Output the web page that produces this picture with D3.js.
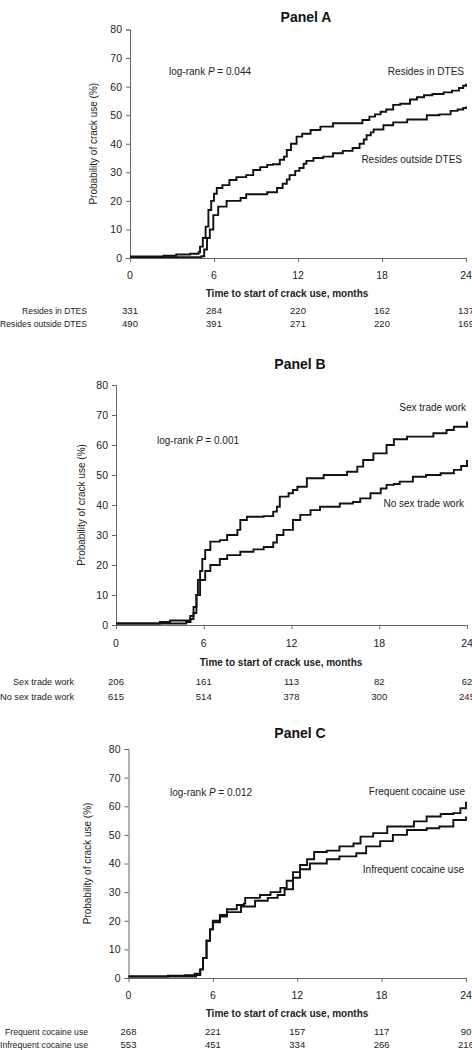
<!DOCTYPE html>
<html><head><meta charset="utf-8">
<script src="https://cdn.jsdelivr.net/npm/d3@7"></script>
<style>body{margin:0;background:#fff}svg{display:block;font-family:"Liberation Sans",Arial,sans-serif}</style>
</head><body><svg id="c" width="472" height="1050"></svg>
<script>
// ---- data ----
const xTicks = [0, 6, 12, 18, 24];
const yTicks = [0, 10, 20, 30, 40, 50, 60, 70, 80];

// Panel A
const aInT  = [0,2.4,3.3,4.3,4.9,5.0,5.2,5.4,5.6,5.8,6.0,6.2,6.6,7.1,7.6,8.3,8.8,9.3,9.8,10.2,10.7,11.0,11.2,11.5,11.9,12.3,12.9,13.6,14.5,16.2,16.6,17.1,17.5,17.9,18.3,18.8,19.3,20.0,20.5,21.0,21.6,22.4,23.0,23.5,23.8,24.0];
const aInP  = [0.5,0.8,1.2,1.5,2,4,7,11,16.8,20,22.5,24.5,25.5,27.3,28.3,29,30.8,31.8,32.6,32.8,34.4,35.5,37.8,40,42.5,43.5,44.8,46,47.2,47.2,48.3,49.5,50.3,51.2,52,53.6,54,55.5,56.3,57,57.4,58,58.6,59.5,60.3,61];
const aOutT = [0,5.1,5.3,5.5,5.7,5.95,6.3,6.9,7.9,8.3,9.3,9.8,10.5,10.9,11.2,11.4,11.8,12.1,12.4,12.6,13.1,13.8,14.5,15.2,15.9,16.4,16.7,16.9,17.2,17.4,18.1,18.8,19.8,20.5,21.2,22.1,22.9,23.4,23.8,24.0];
const aOutP = [0.3,0.6,3,7,10,15,18,20,21,22.3,22.3,23,24.5,26,27.5,29,30.5,31.5,33,34,35,35.5,36.7,37.5,38.5,40,41.5,43,44,45,46.5,47.5,48.5,48.5,50,50.3,51.5,52,52.5,53];
const aLabels = ["Resides in DTES", "Resides outside DTES"];
const aAtRisk = [[331, 284, 220, 162, 137], [490, 391, 271, 220, 169]];

// Panel B
const bSexT  = [0,3.0,3.7,5.07,5.3,5.5,5.6,5.75,5.9,6.1,6.45,7.1,7.6,8.3,8.5,8.95,10.1,10.75,11.0,11.2,11.8,12.1,12.4,13.05,14.2,15.8,16.5,16.9,17.6,18.5,19.0,19.9,21.7,22.6,23.1,23.9,24.0];
const bSexP  = [0.5,1,1.5,3,6,10,15,18,22,25,27.8,28.3,30,31.7,35,36.1,36.3,37.8,39.4,42.8,43.9,45,46.1,48.9,50,51.1,52.8,55,57.2,60,61.9,62.8,63.9,65,66.1,66.1,67.8];
const bNoT   = [0,4.8,5.1,5.3,5.5,5.75,6.1,6.45,7.1,7.6,8.5,9.4,10.1,10.75,11.0,11.45,12.1,12.6,13.3,13.95,15.3,16.2,16.7,17.4,18.1,18.5,19.0,19.4,20.3,21.2,22.2,23.1,23.6,24.0];
const bNoP   = [0.5,1,2,4,10,15,18,20,22,23.3,24.4,25.2,26,27.5,30,31.7,35,36.7,38.3,39.4,40.5,41,42.2,43.9,45.5,46.7,47,47.8,49.4,50,50.6,51.7,53,55];
const bLabels = ["Sex trade work", "No sex trade work"];
const bAtRisk = [[206, 161, 113, 82, 62], [615, 514, 378, 300, 245]];

// Panel C
const cFreqT = [0,2.8,4.0,4.7,5.1,5.3,5.55,5.8,6.0,6.5,7.0,7.7,8.2,8.3,9.35,10.1,10.8,11.25,11.7,12.2,12.7,13.2,14.1,15.0,16.0,16.5,17.4,18.4,19.3,20.3,21.2,22.2,23.1,23.6,24.0];
const cFreqP = [0.5,0.8,1,1.5,3,7,13,17,19.5,22,24,25.5,26,28,29,30,31.5,34,37,39.5,41.5,44,44.5,46,47,49.4,50.6,52.9,52.9,54.7,56.4,57.3,57.6,59.3,61.6];
const cInfT  = [0,4.8,5.1,5.3,5.55,5.8,6.0,6.5,7.0,8.0,9.0,9.9,10.6,11.1,11.7,12.2,12.9,14.1,15.0,16.2,16.9,17.9,18.8,19.8,21.2,22.1,23.1,24.0];
const cInfP  = [0.5,1,3,7,13,17,20,21.5,23,25,27,28,29,31,35,38,40,41.5,42.5,43.6,46,47.8,50,51.7,52.3,52.9,55.2,56.4];
const cLabels = ["Frequent cocaine use", "Infrequent cocaine use"];
const cAtRisk = [[268, 221, 157, 117, 90], [553, 451, 334, 266, 216]];

const pValues = ["0.044", "0.001", "0.012"];
const titles = ["Panel A", "Panel B", "Panel C"];

// ---- layout (pixels) ----
const panels = [
  {title: titles[0], p: pValues[0], x0: 130, x1: 466, yB: 258, yT: 29.5, titleX: 306, titleY: 22,
   series: [[aInT, aInP], [aOutT, aOutP]], labels: aLabels, atRisk: aAtRisk,
   lbl1: [464, 75], lbl2: [462, 163], lr: [169, 75], ytitleX: 97, tickY: 279, axTitle: [287, 297], rows: [314, 327], rowRight: 87,
   rowW: [65, 87]},
  {title: titles[1], p: pValues[1], x0: 116, x1: 467, yB: 625, yT: 385, titleX: 300, titleY: 369,
   series: [[bSexT, bSexP], [bNoT, bNoP]], labels: bLabels, atRisk: bAtRisk,
   lbl1: [466, 411], lbl2: [464, 507], lr: [157, 444], ytitleX: 85, tickY: 647, axTitle: [281, 666], rows: [685, 700], rowRight: 74,
   rowW: [61, 74]},
  {title: titles[2], p: pValues[2], x0: 128.5, x1: 466, yB: 978, yT: 749, titleX: 300, titleY: 738,
   series: [[cFreqT, cFreqP], [cInfT, cInfP]], labels: cLabels, atRisk: cAtRisk,
   lbl1: [465, 795], lbl2: [464, 873], lr: [170, 796], ytitleX: 91, tickY: 999, axTitle: [287, 1017], rows: [1035, 1048], rowRight: 88,
   rowW: [83, 88]}
];

const svg = d3.select("#c");

panels.forEach(P => {
  const g = svg.append("g");
  const x = d3.scaleLinear().domain([0, 24]).range([P.x0, P.x1]);
  const y = d3.scaleLinear().domain([0, 80]).range([P.yB, P.yT]);

  g.append("text").attr("x", P.titleX).attr("y", P.titleY).attr("text-anchor", "middle")
    .attr("font-size", 14).attr("font-weight", "bold").attr("fill", "#111").text(P.title);

  // y axis
  const ya = g.append("g").attr("transform", `translate(${P.x0},0)`)
    .call(d3.axisLeft(y).tickValues(yTicks).tickSize(4).tickPadding(4).tickFormat(d3.format("d")));
  ya.selectAll("text").attr("font-size", 10.5).attr("fill", "#222").attr("font-family", "Liberation Sans, Arial");
  ya.select(".domain").attr("stroke", "#666");
  ya.selectAll(".tick line").attr("stroke", "#666");

  // x axis
  const xa = g.append("g").attr("transform", `translate(0,${P.yB})`)
    .call(d3.axisBottom(x).tickValues(xTicks).tickSize(4).tickSizeOuter(0).tickFormat(() => ""));
  xa.select(".domain").attr("stroke", "#666");
  xa.selectAll(".tick line").attr("stroke", "#666");
  g.selectAll(".xt").data(xTicks).join("text").attr("class", "xt")
    .attr("x", d => x(d)).attr("y", P.tickY).attr("text-anchor", "middle")
    .attr("font-size", 10.5).attr("fill", "#222").text(d => d);

  g.append("text").attr("x", P.axTitle[0]).attr("y", P.axTitle[1]).attr("text-anchor", "middle")
    .attr("font-size", 10).attr("font-weight", "bold").attr("fill", "#222").text("Time to start of crack use, months");

  g.append("text").attr("transform", `translate(${P.ytitleX},${(P.yB + P.yT) / 2}) rotate(-90)`)
    .attr("text-anchor", "middle").attr("font-size", 10).attr("fill", "#222").text("Probability of crack use (%)");

  // curves
  const line = d3.line().curve(d3.curveStepAfter).x(d => x(d[0])).y(d => y(d[1]));
  P.series.forEach(s => {
    const pts = s[0].map((t, i) => [t, s[1][i]]);
    g.append("path").attr("d", line(pts)).attr("fill", "none").attr("stroke", "#111").attr("stroke-width", 1.9);
  });

  // annotations
  const lr = g.append("text").attr("x", P.lr[0]).attr("y", P.lr[1]).attr("font-size", 10).attr("fill", "#222");
  lr.append("tspan").text("log-rank ");
  lr.append("tspan").attr("font-style", "italic").text("P");
  lr.append("tspan").text(" = " + P.p);
  g.append("text").attr("x", P.lbl1[0]).attr("y", P.lbl1[1]).attr("text-anchor", "end").attr("font-size", 10).attr("fill", "#222").text(P.labels[0]);
  g.append("text").attr("x", P.lbl2[0]).attr("y", P.lbl2[1]).attr("text-anchor", "end").attr("font-size", 10).attr("fill", "#222").text(P.labels[1]);

  // at-risk table
  P.atRisk.forEach((row, r) => {
    g.append("text").attr("x", P.rowRight - P.rowW[r]).attr("y", P.rows[r])
      .attr("textLength", P.rowW[r]).attr("lengthAdjust", "spacingAndGlyphs")
      .attr("font-size", 9.5).attr("fill", "#222").text(P.labels[r]);
    g.selectAll(".ar" + r).data(row).join("text").attr("class", "ar" + r)
      .attr("x", (d, i) => x(xTicks[i])).attr("y", P.rows[r]).attr("text-anchor", "middle")
      .attr("font-size", 9.5).attr("fill", "#222").text(d => d);
  });
});
</script></body></html>
